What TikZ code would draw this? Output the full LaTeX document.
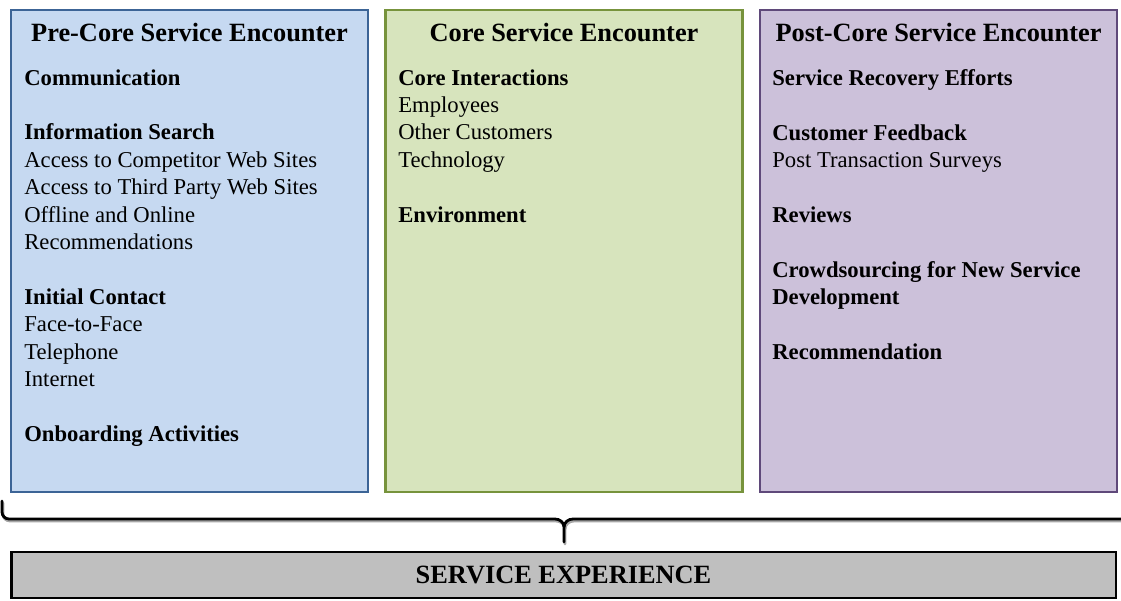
\documentclass[tikz,border=0pt]{standalone}
\usepackage{fontspec}
\setmainfont{Liberation Serif}
\usepackage{tikz}
\usetikzlibrary{positioning}

\definecolor{prefill}{HTML}{C6D9F1}
\definecolor{preline}{HTML}{3C6496}
\definecolor{corefill}{HTML}{D7E4BD}
\definecolor{coreline}{HTML}{77933C}
\definecolor{postfill}{HTML}{CCC1DA}
\definecolor{postline}{HTML}{5F497A}
\definecolor{expfill}{HTML}{BFBFBF}

\begin{document}
\begin{tikzpicture}[x=0.02cm, y=-0.02cm,
		panel/.style={draw, line width=1.3pt, minimum width=7.14cm, minimum height=9.64cm, inner sep=0pt},
		phase/.style={font=\fontsize{15}{18}\selectfont\bfseries},
		items/.style={anchor=north west, inner sep=0pt, align=left, font=\fontsize{12.9}{15.6}\selectfont}]
		\useasboundingbox (0,0) rectangle (1121,601);
		% the three phases
		\node[panel, fill=prefill, draw=preline] (pre) at (189.5,251) {};
		\node[panel, fill=corefill, draw=coreline] (core) at (564,251) {};
		\node[panel, fill=postfill, draw=postline] (post) at (938.5,251) {};
		\node[phase] (pretitle) at (189.5,33) {Pre-Core Service Encounter};
		\node[phase] (coretitle) at (564,33) {Core Service Encounter};
		\node[phase] (posttitle) at (938.5,33) {Post-Core Service Encounter};
		\node[items] (preitems) at (24,69) {\textbf{Communication}\\[15.6pt]
			\textbf{Information Search}\\ Access to Competitor Web Sites\\ Access to Third Party Web Sites\\
			Offline and Online\\ Recommendations\\[15.6pt]
			\textbf{Initial Contact}\\ Face-to-Face\\ Telephone\\ Internet\\[15.6pt]
			\textbf{Onboarding Activities}};
		\node[items] (coreitems) at (398,69) {\textbf{Core Interactions}\\ Employees\\ Other Customers\\ Technology\\[15.6pt]
			\textbf{Environment}};
		\node[items] (postitems) at (772,69) {\textbf{Service Recovery Efforts}\\[15.6pt]
			\textbf{Customer Feedback}\\ Post Transaction Surveys\\[15.6pt]
			\textbf{Reviews}\\[15.6pt]
			\textbf{Crowdsourcing for New Service}\\ \textbf{Development}\\[15.6pt]
			\textbf{Recommendation}};
		% brace
		\foreach \c/\dx/\dy in {gray!70/1/2, black/0/0}
		{
			\draw[\c, line width=1.6pt, line cap=round] ([shift={(\dx,\dy)}]2,501) -- ([shift={(\dx,\dy)}]2,512)
				to[out=-90,in=180] ([shift={(\dx,\dy)}]9,519) -- ([shift={(\dx,\dy)}]555,519)
				to[out=0,in=90] ([shift={(\dx,\dy)}]564,527) -- ([shift={(\dx,\dy)}]564,542);
			\draw[\c, line width=1.6pt] ([shift={(\dx,\dy)}]564,527) to[out=90,in=180] ([shift={(\dx,\dy)}]573,519) -- ([shift={(\dx,\dy)}]1125,519);
		}
		\node[draw, fill=expfill, line width=1.6pt, minimum width=22.1cm, minimum height=0.92cm, phase] (exp) at (563.5,575) {SERVICE EXPERIENCE};
	\end{tikzpicture}
\end{document}
